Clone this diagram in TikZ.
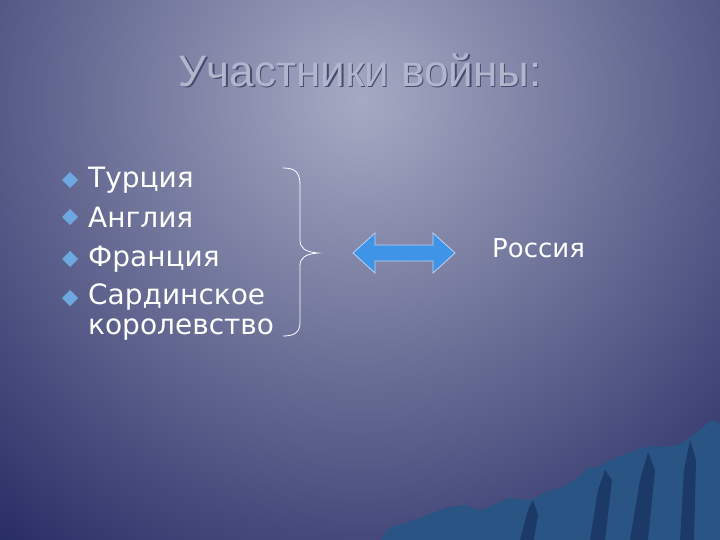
\documentclass[tikz,border=0pt]{standalone}
\usepackage{fontspec}
\setmainfont{DejaVu Sans}
\newfontfamily\titlefont{Liberation Sans}
\definecolor{bgin}{RGB}{165,170,195}
\definecolor{bgout}{RGB}{34,38,96}
\definecolor{mtn}{RGB}{42,84,132}
\definecolor{mtndark}{RGB}{28,58,104}
\definecolor{titlec}{RGB}{178,182,204}
\definecolor{titles}{RGB}{70,74,110}
\definecolor{arrowc}{RGB}{64,148,232}
\definecolor{arrowl}{RGB}{190,210,240}
\definecolor{bulc}{RGB}{110,168,225}
\begin{document}
\begin{tikzpicture}[x=1pt,y=-1pt,
  item/.style={anchor=west,text=white,font=\fontsize{28}{30}\selectfont,inner sep=0pt},
  bul/.style={fill=bulc,draw=none},
  ttl/.style={font=\titlefont\fontsize{44}{48}\selectfont}]
\useasboundingbox (0,0) rectangle (720,540);
\fill[bgout] (0,0) rectangle (720,540);
\shade[inner color=bgin,outer color=bgout] (-240,-500) rectangle (960,700);
% mountains
\fill[mtn] (380,540)--(390,528)--(420,518)--(445,508)--(465,505)--(480,510)--(510,498)--(530,500)--(545,492)--(560,488)--(575,480)--(588,468)--(600,466)--(615,458)--(635,450)--(652,446)--(665,447)--(680,444)--(692,436)--(702,428)--(712,420)--(720,424)--(720,540)--cycle;
\fill[mtndark] (590,540)--(598,490)--(605,470)--(612,480)--(605,540)--cycle;
\fill[mtndark] (630,540)--(640,480)--(648,452)--(655,470)--(648,540)--cycle;
\fill[mtndark] (680,540)--(684,470)--(690,440)--(696,460)--(694,540)--cycle;
\fill[mtndark] (520,540)--(528,510)--(533,500)--(538,515)--(534,540)--cycle;
% title with shadow
\node[ttl,text=titles] (titleshadow) at (361.5,71.5) {Участники войны:};
\node[ttl,text=titlec] (title) at (360,70) {Участники войны:};
% items
\foreach \y in {180,217,259,298}{\fill[bul] (70,\y-8)--(78,\y)--(70,\y+8)--(62,\y)--cycle;}
\node[item] (t1) at (88,180) {Турция};
\node[item] (t2) at (88,217) {Англия};
\node[item] (t3) at (88,259) {Франция};
\node[item] (t4) at (88,297) {Сардинское};
\node[item] (t5) at (88,330) {королевство};
% brace
\draw[white,line width=0.8pt] (283,168) .. controls (295,168) and (300,172) .. (300,185) -- (300,240) .. controls (300,248) and (305,252) .. (318,253) .. controls (305,254) and (300,258) .. (300,266) -- (300,322) .. controls (300,332) and (295,336) .. (283,336);
% arrow
\fill[arrowc,draw=arrowl,line width=0.8pt]
 (353,253)--(375,233)--(375,245)--(433,245)--(433,233)--(455,253)--(433,273)--(433,261)--(375,261)--(375,273)--cycle;
\node[text=white,font=\fontsize{26}{28}\selectfont,anchor=west,inner sep=0pt] (r) at (492,248) {Россия};
\end{tikzpicture}
\end{document}
